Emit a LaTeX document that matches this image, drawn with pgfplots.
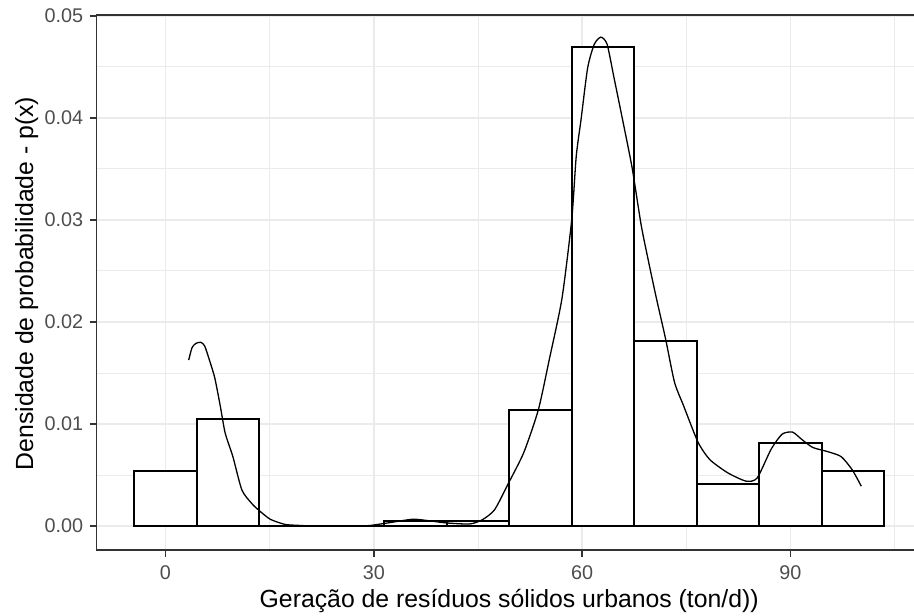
\documentclass[border=0pt]{standalone}
\usepackage{fontspec}
\setmainfont{Liberation Sans}
\usepackage{pgfplots}
\pgfplotsset{compat=1.18}
\definecolor{gridc}{HTML}{EBEBEB}
\definecolor{gray20}{HTML}{333333}
\definecolor{gray30}{HTML}{4D4D4D}
\begin{document}
\begin{tikzpicture}[x=1pt,y=1pt]
\useasboundingbox (0,0) rectangle (914,616);
\begin{axis}[
  at={(96.7pt,66pt)}, anchor=south west,
  scale only axis, width=825pt, height=535pt,
  xmin=-9.9, xmax=108.9, ymin=-0.00235, ymax=0.05007,
  xtick={0,30,60,90}, xticklabels={0,30,60,90},
  ytick={0,0.01,0.02,0.03,0.04,0.05},
  yticklabels={0.00,0.01,0.02,0.03,0.04,0.05},
  scaled ticks=false,
  minor xtick={15,45,75,105},
  minor ytick={0.005,0.015,0.025,0.035,0.045},
  grid=both,
  major grid style={line width=1.6pt, draw=gridc},
  minor grid style={line width=0.8pt, draw=gridc},
  xtick pos=bottom, ytick pos=left,
  tick align=outside, major tick length=7pt, minor tick length=0pt,
  major tick style={line width=1.6pt, draw=gray20},
  axis line style={line width=1.6pt, draw=gray20},
  /pgf/number format/assume math mode=true,
  ticklabel style={font=\fontsize{19.8}{22}\selectfont, text=gray30},
  xticklabel style={inner sep=8.7pt},
  yticklabel style={inner sep=6.4pt},
]
\addplot[ybar interval, fill=white, draw=black, line width=1.9pt] coordinates {
(-4.5,0.00542) (4.5,0.01052) (13.5,0) (22.5,0) (31.5,0.00053) (40.5,0.00053)
(49.5,0.01137) (58.5,0.0469) (67.5,0.0181) (76.5,0.00408) (85.5,0.0081)
(94.5,0.00542) (103.5,0)};
\addplot[black, line width=1.3pt, smooth, tension=0.4] coordinates {
(3.35,0.01626) (3.83,0.01748) (4.4,0.0179) (5.1,0.0180) (5.65,0.01764)
(6.3,0.01633) (7.1,0.01452) (7.9,0.01174) (8.6,0.00911) (9.7,0.00682)
(11.0,0.00354) (12.4,0.00223) (13.4,0.00157) (15.1,0.00066) (17.2,0.00016)
(18.9,0.00007) (21,0.00001) (25,0.0) (29,0.00003) (30,0.0001) (32,0.0003)
(35.6,0.00066) (38.1,0.0005) (40.5,0.0003) (43.8,0.0002) (45.6,0.0006)
(47.4,0.0016) (49.4,0.0042) (51.6,0.0072) (53.7,0.0114) (55.3,0.0164)
(57.1,0.0223) (58.5,0.0300) (59.15,0.0362) (59.86,0.0399) (60.8,0.0449)
(61.75,0.0472) (62.7,0.0479) (63.6,0.0472) (64.6,0.0439) (65.8,0.0399)
(67.2,0.0351) (68.5,0.0295) (69.6,0.0258) (70.7,0.0223) (72.0,0.0184)
(73.3,0.0141) (74.6,0.0118) (76.7,0.0082) (78.4,0.0065) (81.0,0.0052)
(83.6,0.0044) (85.2,0.0047) (87.2,0.0075) (88.8,0.0090) (90.3,0.0092)
(91.6,0.0085) (93.2,0.0077) (95.3,0.0073) (97.3,0.0068) (98.9,0.0055)
(100.2,0.0039)};
\end{axis}
\node[anchor=base, inner sep=0pt, font=\fontsize{24.8}{28}\selectfont] at (509.2,8) {Geração de resíduos sólidos urbanos (ton/d))};
\node[rotate=90, anchor=base, inner sep=0pt, font=\fontsize{24.8}{28}\selectfont] at (33,332.5) {Densidade de probabilidade - p(x)};
\end{tikzpicture}
\end{document}
